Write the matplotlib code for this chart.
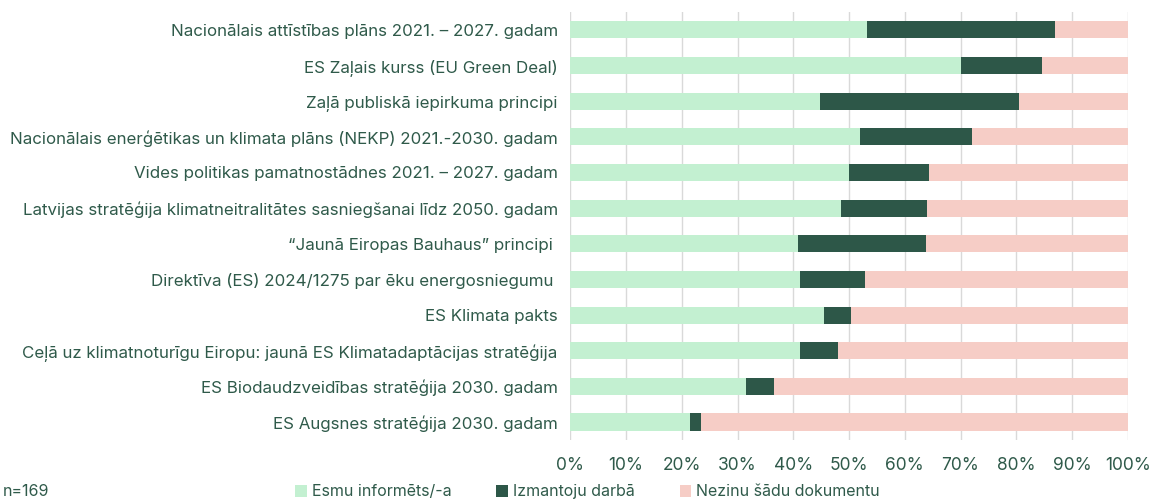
import matplotlib
matplotlib.use("Agg")
import matplotlib.pyplot as plt
from matplotlib.ticker import FuncFormatter

categories = [
    "Nacionālais attīstības plāns 2021. – 2027. gadam",
    "ES Zaļais kurss (EU Green Deal)",
    "Zaļā publiskā iepirkuma principi",
    "Nacionālais enerģētikas un klimata plāns (NEKP) 2021.-2030. gadam",
    "Vides politikas pamatnostādnes 2021. – 2027. gadam",
    "Latvijas stratēģija klimatneitralitātes sasniegšanai līdz 2050. gadam",
    "“Jaunā Eiropas Bauhaus” principi ",
    "Direktīva (ES) 2024/1275 par ēku energosniegumu ",
    "ES Klimata pakts",
    "Ceļā uz klimatnoturīgu Eiropu: jaunā ES Klimatadaptācijas stratēģija",
    "ES Biodaudzveidības stratēģija 2030. gadam",
    "ES Augsnes stratēģija 2030. gadam",
]
informed = [53.3, 70.1, 44.8, 51.9, 50.0, 48.5, 40.9, 41.2, 45.5, 41.2, 31.6, 21.5]
using = [33.6, 14.5, 35.6, 20.1, 14.4, 15.5, 22.9, 11.7, 4.9, 6.8, 5.0, 2.0]
unknown = [round(100 - a - b, 1) for a, b in zip(informed, using)]
series_names = ["Esmu informēts/-a", "Izmantoju darbā", "Nezinu šādu dokumentu"]
xticks = [0, 10, 20, 30, 40, 50, 60, 70, 80, 90, 100]

colors = ["#c3f0d1", "#2d5748", "#f6cdc6"]
txt = "#2f5a4a"

plt.rcParams['font.family'] = ['Inter', 'DejaVu Sans']

fig = plt.figure(figsize=(11.52, 5.01), dpi=100)
ax = fig.add_axes([0.495, 0.122, 0.484, 0.854])

ypos = list(range(len(categories)))
left = [0] * len(categories)
for vals, c, name in zip([informed, using, unknown], colors, series_names):
    ax.barh(ypos, vals, left=left, height=0.48, color=c, label=name, zorder=2)
    left = [l + v for l, v in zip(left, vals)]

ax.set_ylim(len(categories) - 0.5, -0.5)
ax.set_xlim(0, 100)
ax.set_xticks(xticks)
ax.xaxis.set_major_formatter(FuncFormatter(lambda v, p: f"{v:.0f}%"))
ax.set_yticks(ypos)
ax.set_yticklabels(categories)
ax.grid(axis='x', color='#d9d9d9', linewidth=1.0, zorder=0)
for s in ax.spines.values():
    s.set_visible(False)
ax.tick_params(axis='both', length=0, colors=txt)
ax.tick_params(axis='y', labelsize=12.2, pad=9)
ax.tick_params(axis='x', labelsize=12.5, pad=12)

fig.legend(loc='center', bbox_to_anchor=(0.51, 0.018), ncol=3, frameon=False,
           fontsize=11.5, labelcolor=txt, handlelength=0.75, handleheight=0.75,
           handletextpad=0.3, columnspacing=2.8, borderaxespad=0)

fig.text(0.002, 0.004, "n=169", fontsize=11.5, color=txt, ha='left', va='bottom')

fig.savefig("out.png", dpi=100)
